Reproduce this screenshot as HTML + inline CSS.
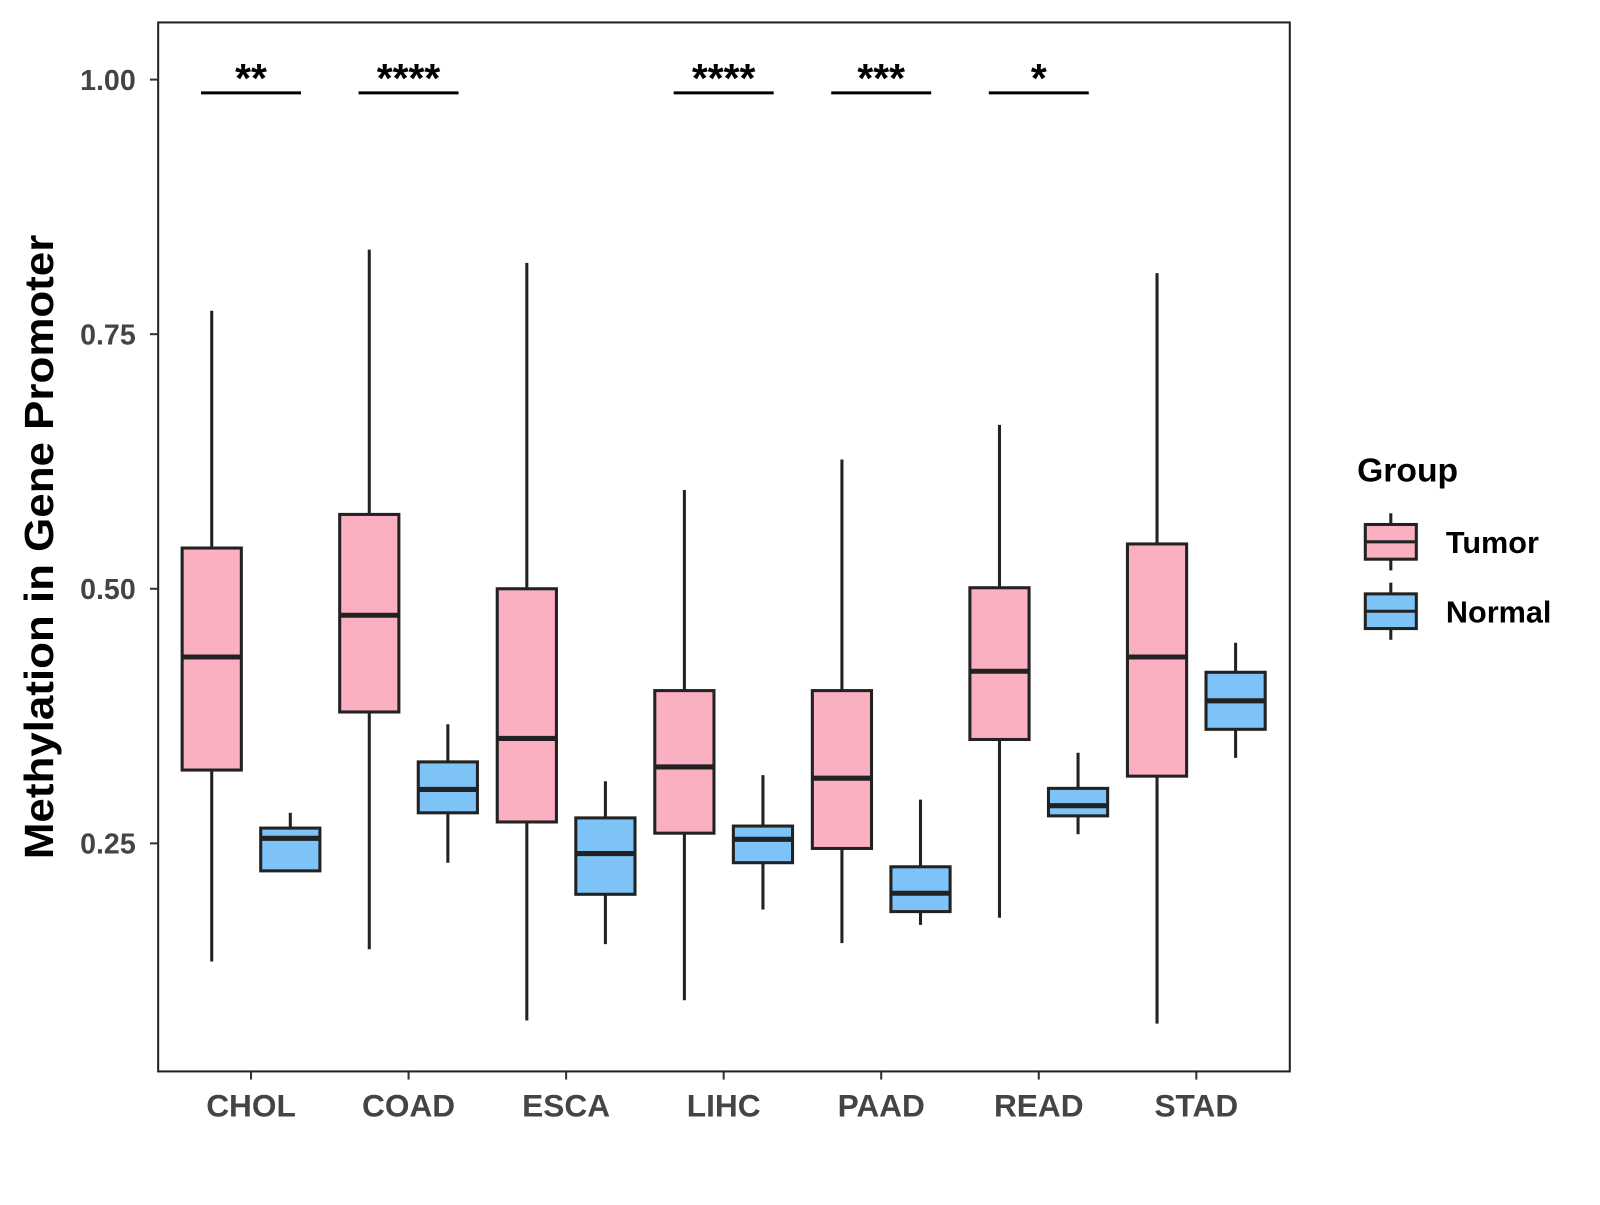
<!DOCTYPE html>
<html><head><meta charset="utf-8"><style>
html,body{margin:0;padding:0;background:#fff;}
svg text{font-family:"Liberation Sans",Arial,sans-serif;font-weight:bold;}
</style></head><body>
<svg id="chart" width="1600" height="1200" xmlns="http://www.w3.org/2000/svg">
<g transform="scale(1.0204)">
<rect x="155" y="22" width="1109" height="1028" fill="#fff" stroke="#222" stroke-width="2"/>
<g id="marks"></g>
<text x="0" y="0" transform="translate(52,536) rotate(-90)" text-anchor="middle" font-size="40" textLength="612" lengthAdjust="spacingAndGlyphs" fill="#000">Methylation in Gene Promoter</text>
<g>
<text x="1330" y="472" font-size="33" fill="#000">Group</text>
<g>
<line x1="1363" y1="503" x2="1363" y2="559" stroke="#222" stroke-width="3"/>
<rect x="1338" y="514" width="50" height="34" fill="#FBB0C2" stroke="#222" stroke-width="3"/>
<line x1="1338" y1="531" x2="1388" y2="531" stroke="#222" stroke-width="3"/>
<text x="1417" y="542" font-size="30" fill="#000">Tumor</text></g>
<g>
<line x1="1363" y1="571" x2="1363" y2="627" stroke="#222" stroke-width="3"/>
<rect x="1338" y="582" width="50" height="34" fill="#7DC3F7" stroke="#222" stroke-width="3"/>
<line x1="1338" y1="599" x2="1388" y2="599" stroke="#222" stroke-width="3"/>
<text x="1417" y="610" font-size="30" fill="#000">Normal</text></g>
</g>
</g>
</svg>
<script>
const categories=["CHOL","COAD","ESCA","LIHC","PAAD","READ","STAD"];
// [lower whisker, Q1, median, Q3, upper whisker]
const tumorStats=[[0.134,0.322,0.433,0.540,0.773],[0.146,0.379,0.474,0.573,0.833],[0.076,0.271,0.353,0.500,0.820],[0.096,0.260,0.325,0.400,0.597],[0.152,0.245,0.314,0.400,0.627],[0.177,0.352,0.419,0.501,0.661],[0.073,0.316,0.433,0.544,0.810]];
const normalStats=[[0.223,0.223,0.255,0.265,0.280],[0.231,0.280,0.303,0.330,0.367],[0.151,0.200,0.240,0.275,0.311],[0.185,0.231,0.254,0.267,0.317],[0.170,0.183,0.201,0.227,0.293],[0.259,0.277,0.287,0.304,0.339],[0.334,0.362,0.390,0.418,0.447]];
const sigLabels=["**","****","","****","***","*",""];
const yTicks=[0.25,0.50,0.75,1.00];
const yTickLabels=["0.25","0.50","0.75","1.00"];

const NS="http://www.w3.org/2000/svg";
const y=v=>78+(1-v)*998;
const x=i=>246+i*154.4;
const g=document.getElementById('marks');
function mk(tag,attrs,parent){const e=document.createElementNS(NS,tag);for(const k in attrs)e.setAttribute(k,attrs[k]);(parent||g).appendChild(e);return e;}
yTicks.forEach((t,i)=>{
  const l=mk('line',{x1:147,x2:155,y1:y(t),y2:y(t),stroke:'#333','stroke-width':2});
  
  
  const tx=mk('text',{x:133,y:y(t)+10,'text-anchor':'end','font-size':28,fill:'#444'});
  tx.textContent=yTickLabels[i];
  
  
});
function box(cx,s,fill,name){
  const grp=mk('g',{});
  
  
  mk('line',{x1:cx,x2:cx,y1:y(s[4]),y2:y(s[0]),stroke:'#222','stroke-width':3},grp);
  mk('rect',{x:cx-29,y:y(s[3]),width:58,height:Math.max(1,y(s[1])-y(s[3])),fill:fill,stroke:'#222','stroke-width':3},grp);
  mk('line',{x1:cx-29,x2:cx+29,y1:y(s[2]),y2:y(s[2]),stroke:'#222','stroke-width':5},grp);
}
categories.forEach((c,i)=>{
  box(x(i)-38.5,tumorStats[i],'#FBB0C2','box-tumor-'+c.toLowerCase());
  box(x(i)+38.5,normalStats[i],'#7DC3F7','box-normal-'+c.toLowerCase());
  const tk=mk('line',{x1:x(i),x2:x(i),y1:1050,y2:1058,stroke:'#333','stroke-width':2});
  
  
  const lb=mk('text',{x:x(i),y:1094,'text-anchor':'middle','font-size':31,fill:'#444'});
  lb.textContent=c;
  
  
  if(sigLabels[i]){
    const b=mk('line',{x1:x(i)-49,x2:x(i)+49,y1:91,y2:91,stroke:'#000','stroke-width':3});
    
    
    const st=mk('text',{x:x(i),y:90,'text-anchor':'middle','font-size':40,fill:'#000'});
    st.textContent=sigLabels[i];
    
    
  }
});
</script>
</body></html>
